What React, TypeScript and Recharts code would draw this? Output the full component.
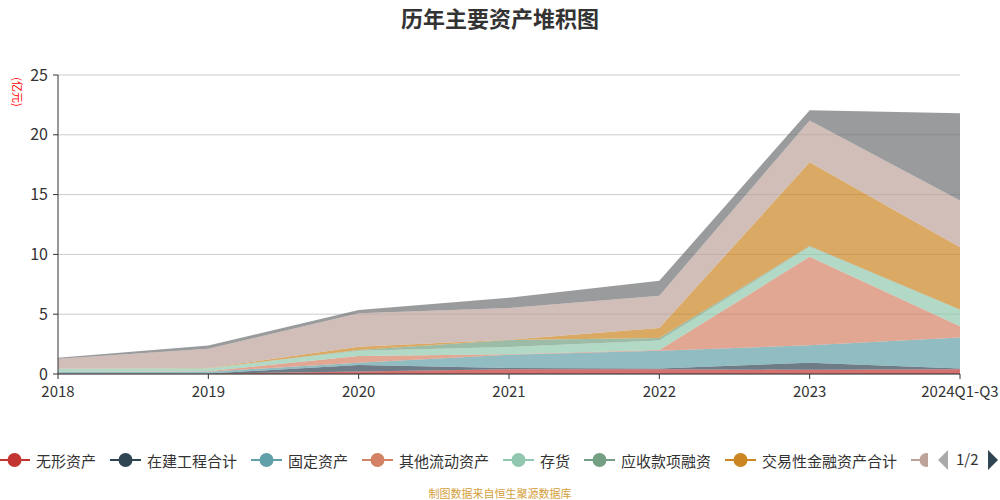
import { Area, AreaChart, CartesianGrid, XAxis, YAxis } from "recharts";

const years = ["2018", "2019", "2020", "2021", "2022", "2023", "2024Q1-Q3"];

// 亿元, bottom of stack first
const intangible = [0.02, 0.02, 0.2, 0.4, 0.4, 0.35, 0.4];
const construction = [0.02, 0.02, 0.55, 0.1, 0.05, 0.6, 0.05];
const fixedAssets = [0.12, 0.15, 0.2, 1.1, 1.5, 1.45, 2.6];
const otherCurrent = [0.02, 0.05, 0.55, 0.05, 0.05, 7.4, 0.95];
const inventory = [0.25, 0.25, 0.45, 0.6, 0.8, 0.85, 1.35];
const receivablesFin = [0, 0, 0.05, 0.6, 0.2, 0.05, 0.05];
const tradingAssets = [0, 0.02, 0.28, 0.02, 0.85, 7.0, 5.2];
const receivables = [0.85, 1.6, 2.79, 2.65, 2.7, 3.5, 3.9];
const cash = [0.07, 0.28, 0.28, 0.85, 1.25, 0.85, 7.3];

const yTicks = [0, 5, 10, 15, 20, 25];

const series = [
    { key: "intangible", name: "无形资产", color: "#c23531", values: intangible },
    { key: "construction", name: "在建工程合计", color: "#2f4554", values: construction },
    { key: "fixedAssets", name: "固定资产", color: "#61a0a8", values: fixedAssets },
    { key: "otherCurrent", name: "其他流动资产", color: "#d48265", values: otherCurrent },
    { key: "inventory", name: "存货", color: "#91c7ae", values: inventory },
    { key: "receivablesFin", name: "应收款项融资", color: "#749f83", values: receivablesFin },
    { key: "tradingAssets", name: "交易性金融资产合计", color: "#ca8622", values: tradingAssets },
    { key: "receivables", name: "应收账款", color: "#bda29a", values: receivables },
    { key: "cash", name: "货币资金", color: "#6e7074", values: cash },
];

const data = years.map((year, i) => {
    const row: Record<string, string | number> = { year };
    series.forEach((s) => {
        row[s.key] = s.values[i];
    });
    return row;
});

const font = '"Noto Sans CJK SC", "Noto Sans", sans-serif';

export default function App() {
    return (
        <div style={{ position: "relative", width: 1000, height: 500, fontFamily: font, overflow: "hidden" }}>
            <style>{"body{margin:0}"}</style>
            <div
                style={{
                    position: "absolute",
                    top: 1,
                    left: 0,
                    width: 1000,
                    textAlign: "center",
                    fontSize: 22,
                    fontWeight: "bold",
                    color: "#333",
                }}
            >
                历年主要资产堆积图
            </div>
            <div
                style={{
                    position: "absolute",
                    left: 0,
                    top: 84,
                    width: 36,
                    textAlign: "center",
                    fontSize: 11,
                    color: "#ff0000",
                    transform: "rotate(90deg)",
                    transformOrigin: "18px 8px",
                }}
            >
                (亿元)
            </div>
            <AreaChart
                width={1000}
                height={420}
                data={data}
                margin={{ top: 75, right: 40, left: 0, bottom: 0 }}
                style={{ position: "absolute", left: 0, top: 0 }}
            >
                <CartesianGrid stroke="#cccccc" vertical={false} />
                <XAxis
                    dataKey="year"
                    interval={0}
                    height={46}
                    tick={{ fill: "#333", fontSize: 15, fontFamily: font }}
                    tickLine={{ stroke: "#333" }}
                    axisLine={{ stroke: "#333" }}
                    tickSize={5}
                    tickMargin={7}
                />
                <YAxis
                    width={58}
                    domain={[0, 25]}
                    ticks={yTicks}
                    tick={{ fill: "#333", fontSize: 16, fontFamily: font }}
                    tickLine={{ stroke: "#333" }}
                    axisLine={{ stroke: "#333" }}
                    tickSize={5}
                    tickMargin={5}
                />
                {series.map((s) => (
                    <Area
                        key={s.key}
                        type="linear"
                        dataKey={s.key}
                        name={s.name}
                        stackId="1"
                        stroke="none"
                        fill={s.color}
                        fillOpacity={0.7}
                        isAnimationActive={false}
                    />
                ))}
            </AreaChart>
            <div
                style={{
                    position: "absolute",
                    left: -1,
                    top: 448,
                    width: 929,
                    height: 24,
                    overflow: "hidden",
                    display: "flex",
                    alignItems: "center",
                    whiteSpace: "nowrap",
                }}
            >
                {series.map((s) => (
                    <div key={s.key} style={{ display: "flex", alignItems: "center", marginRight: 14, flexShrink: 0 }}>
                        <svg width={31} height={16} style={{ marginRight: 6 }}>
                            <line x1={0} y1={8} x2={31} y2={8} stroke={s.color} strokeWidth={2} />
                            <circle cx={15.5} cy={8} r={7} fill={s.color} />
                        </svg>
                        <span style={{ fontSize: 15, color: "#333" }}>{s.name}</span>
                    </div>
                ))}
            </div>
            <svg width={16} height={24} style={{ position: "absolute", left: 934, top: 448 }}>
                <polygon points="14,2 14,22 4,12" fill="#aaaaaa" />
            </svg>
            <div style={{ position: "absolute", left: 956, top: 448, fontSize: 15, color: "#333" }}>1/2</div>
            <svg width={12} height={24} style={{ position: "absolute", left: 986, top: 448 }}>
                <polygon points="2,2 2,22 12,12" fill="#2f4554" />
            </svg>
            <div
                style={{
                    position: "absolute",
                    top: 485,
                    left: 0,
                    width: 1000,
                    textAlign: "center",
                    fontSize: 11,
                    color: "#d4a03a",
                }}
            >
                制图数据来自恒生聚源数据库
            </div>
        </div>
    );
}
